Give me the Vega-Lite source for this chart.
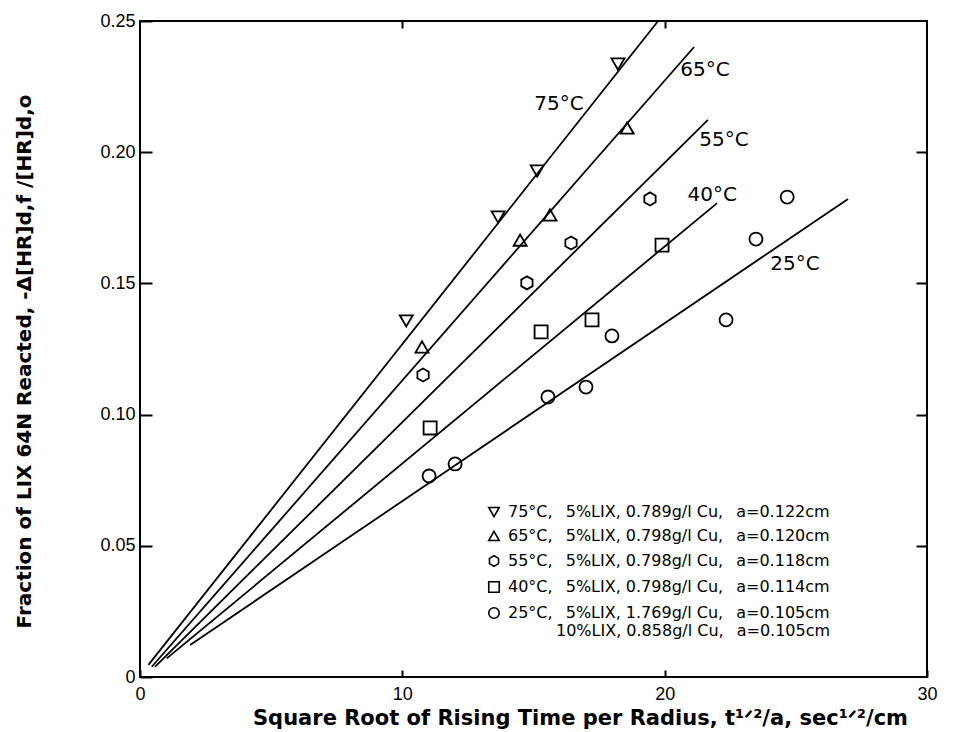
{
  "$schema": "https://vega.github.io/schema/vega-lite/v6.json",
  "width": 787,
  "height": 656,
  "autosize": {"type": "none"},
  "padding": {"left": 140, "top": 21, "right": 29, "bottom": 55},
  "background": "white",
  "config": {
    "view": {"stroke": "black", "strokeWidth": 2},
    "font": "DejaVu Sans"
  },
  "datasets": {
    "points": [
      {"series": "75°C", "x": 10.15, "y": 0.1357},
      {"series": "75°C", "x": 13.65, "y": 0.1753},
      {"series": "75°C", "x": 15.14, "y": 0.1928},
      {"series": "75°C", "x": 18.22, "y": 0.2336},
      {"series": "65°C", "x": 10.75, "y": 0.1258},
      {"series": "65°C", "x": 14.49, "y": 0.1665},
      {"series": "65°C", "x": 15.63, "y": 0.1761},
      {"series": "65°C", "x": 18.57, "y": 0.2092},
      {"series": "55°C", "x": 10.79, "y": 0.1151},
      {"series": "55°C", "x": 14.75, "y": 0.1502},
      {"series": "55°C", "x": 16.43, "y": 0.1654},
      {"series": "55°C", "x": 19.44, "y": 0.1822},
      {"series": "40°C", "x": 11.06, "y": 0.0949},
      {"series": "40°C", "x": 15.29, "y": 0.1315},
      {"series": "40°C", "x": 17.23, "y": 0.1361},
      {"series": "40°C", "x": 19.9, "y": 0.1646},
      {"series": "25°C", "x": 11.02, "y": 0.0766},
      {"series": "25°C", "x": 12.01, "y": 0.0812},
      {"series": "25°C", "x": 15.55, "y": 0.1067},
      {"series": "25°C", "x": 17.0, "y": 0.1105},
      {"series": "25°C", "x": 17.99, "y": 0.13},
      {"series": "25°C", "x": 22.34, "y": 0.1361},
      {"series": "25°C", "x": 23.48, "y": 0.1669},
      {"series": "25°C", "x": 24.67, "y": 0.1829}
    ],
    "fits": [
      {"series": "75°C", "x": 0.32, "y": 0.0046},
      {"series": "75°C", "x": 19.75, "y": 0.25},
      {"series": "65°C", "x": 0.45, "y": 0.0039},
      {"series": "65°C", "x": 21.12, "y": 0.2401},
      {"series": "55°C", "x": 0.57, "y": 0.0039},
      {"series": "55°C", "x": 21.65, "y": 0.2123},
      {"series": "40°C", "x": 1.02, "y": 0.0071},
      {"series": "40°C", "x": 22.0, "y": 0.1806},
      {"series": "25°C", "x": 1.91, "y": 0.0122},
      {"series": "25°C", "x": 26.99, "y": 0.1822}
    ],
    "labels": [
      {"text": "75°C", "x": 15.97, "y": 0.2184},
      {"text": "65°C", "x": 21.54, "y": 0.2313},
      {"text": "55°C", "x": 22.26, "y": 0.2047},
      {"text": "40°C", "x": 21.81, "y": 0.1837},
      {"text": "25°C", "x": 24.97, "y": 0.1574}
    ]
  },
  "resolve": {"axis": {"x": "independent", "y": "independent"}},
  "layer": [
    {
      "data": {"name": "points"},
      "mark": {"type": "point", "filled": false, "stroke": "black", "strokeWidth": 1.8, "size": 170, "opacity": 1},
      "encoding": {
        "x": {
          "field": "x", "type": "quantitative",
          "scale": {"domain": [0, 30], "nice": false, "zero": false},
          "axis": {
            "orient": "bottom", "values": [0, 10, 20, 30], "grid": false, "domain": false,
            "tickSize": -7, "tickColor": "black", "tickWidth": 2,
            "labelPadding": 15, "labelFont": "Liberation Sans", "labelFontSize": 18, "labelColor": "black",
            "labelFlush": false,
            "title": "Square Root of Rising Time per Radius, t¹ᐟ²/a, sec¹ᐟ²/cm",
            "titleFont": "DejaVu Sans", "titleFontSize": 21, "titleFontWeight": "bold", "titleColor": "black",
            "titleX": 440, "titleY": 41, "titleBaseline": "middle", "titleAlign": "center"
          }
        },
        "y": {
          "field": "y", "type": "quantitative",
          "scale": {"domain": [0, 0.25], "nice": false, "zero": false},
          "axis": {
            "orient": "left", "values": [0, 0.05, 0.1, 0.15, 0.2, 0.25], "grid": false, "domain": false,
            "tickSize": -12, "tickColor": "black", "tickWidth": 2,
            "labelPadding": 17, "labelFont": "Liberation Sans", "labelFontSize": 18, "labelColor": "black",
            "labelFlush": false,
            "labelExpr": "datum.value == 0 ? '0' : format(datum.value, '.2f')",
            "title": "Fraction of LIX 64N Reacted, -Δ[HR]d,f /[HR]d,o",
            "titleFont": "DejaVu Sans", "titleFontSize": 20, "titleFontWeight": "bold", "titleColor": "black",
            "titleX": -116, "titleY": 340, "titleAngle": 270, "titleBaseline": "middle", "titleAlign": "center"
          }
        },
        "shape": {
          "field": "series", "type": "nominal",
          "scale": {
            "domain": ["75°C", "65°C", "55°C", "40°C", "25°C"],
            "range": ["triangle-down", "triangle-up", "M0,-1L0.866,-0.5L0.866,0.5L0,1L-0.866,0.5L-0.866,-0.5Z", "square", "circle"]
          },
          "legend": {
            "orient": "none", "legendX": 346, "legendY": 483,
            "title": null,
            "symbolSize": 110, "symbolStrokeColor": "black", "symbolStrokeWidth": 1.6, "symbolFillColor": "transparent",
            "labelFont": "DejaVu Sans", "labelFontSize": 16, "labelColor": "black", "labelLimit": 0,
            "rowPadding": 8, "labelOffset": 6,
            "labelExpr": "datum.value == '75°C' ? '75°C,\u2002 5%LIX, 0.789g/l Cu,\u2002 a=0.122cm' : datum.value == '65°C' ? '65°C,\u2002 5%LIX, 0.798g/l Cu,\u2002 a=0.120cm' : datum.value == '55°C' ? '55°C,\u2002 5%LIX, 0.798g/l Cu,\u2002 a=0.118cm' : datum.value == '40°C' ? '40°C,\u2002 5%LIX, 0.798g/l Cu,\u2002 a=0.114cm' : ['25°C,\u2002 5%LIX, 1.769g/l Cu,\u2002 a=0.105cm', '\u200b\u2002\u2002\u2002\u2002\u2002\u200210%LIX, 0.858g/l Cu,\u2002 a=0.105cm']"
          }
        }
      }
    },
    {
      "data": {"name": "fits"},
      "mark": {"type": "line", "stroke": "black", "strokeWidth": 1.8},
      "encoding": {
        "x": {
          "field": "x", "type": "quantitative",
          "axis": {
            "orient": "top", "values": [10, 20], "grid": false, "domain": false, "labels": false,
            "tickSize": -7, "tickColor": "black", "tickWidth": 2, "title": null
          }
        },
        "y": {
          "field": "y", "type": "quantitative",
          "axis": {
            "orient": "right", "values": [0.05, 0.1, 0.15, 0.2], "grid": false, "domain": false, "labels": false,
            "tickSize": -11, "tickColor": "black", "tickWidth": 2, "title": null
          }
        },
        "detail": {"field": "series", "type": "nominal"}
      }
    },
    {
      "data": {"name": "labels"},
      "mark": {"type": "text", "font": "DejaVu Sans", "fontSize": 20, "color": "black", "align": "center", "baseline": "middle"},
      "encoding": {
        "x": {"field": "x", "type": "quantitative", "axis": null},
        "y": {"field": "y", "type": "quantitative", "axis": null},
        "text": {"field": "text", "type": "nominal"}
      }
    }
  ]
}
